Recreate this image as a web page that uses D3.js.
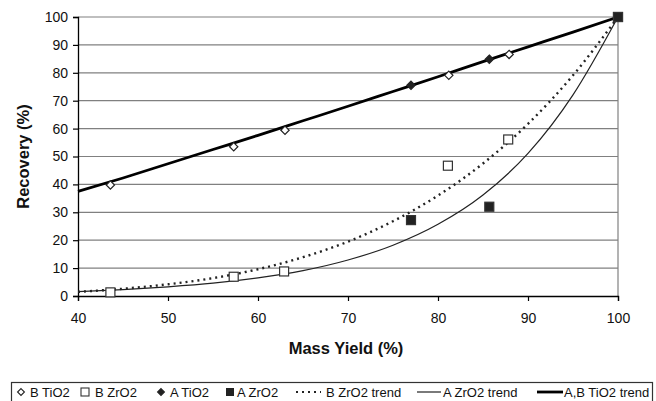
<!DOCTYPE html>
<html>
<head>
<meta charset="utf-8">
<script src="https://cdn.jsdelivr.net/npm/d3@7"></script>
<style>
  body { margin: 0; background: #fff; }
  svg { display: block; font-family: "Liberation Sans", Arial, sans-serif; }
</style>
</head>
<body>
<div id="chart"></div>
<script>
// data
const bTiO2X = [43.6, 57.3, 63.0, 81.2, 87.9, 100];
const bTiO2Y = [39.8, 53.5, 59.4, 79.1, 86.6, 100];
const bZrO2X = [43.6, 57.3, 62.9, 81.1, 87.8, 100];
const bZrO2Y = [1.3, 6.9, 8.8, 46.7, 56.1, 100];
const aTiO2X = [77.0, 85.7];
const aTiO2Y = [75.5, 84.9];
const aZrO2X = [77.0, 85.7, 100];
const aZrO2Y = [27.2, 32.0, 100];

// trend lines, read every 5 units
const trendX = [40, 45, 50, 55, 60, 65, 70, 75, 80, 85, 90, 95, 100];
const bZrO2Trend = [1.5, 2.6, 4.2, 6.4, 9.6, 13.9, 19.5, 26.8, 36.0, 47.5, 61.7, 79.1, 100];
const aZrO2Trend = [1.6, 2.3, 3.3, 4.6, 6.5, 9.1, 12.9, 18.2, 25.7, 36.2, 51.1, 72.1, 100];
const tiO2Trend = [37.5, 42.3, 47.4, 52.5, 57.6, 62.8, 68.0, 73.3, 78.6, 84.0, 89.3, 94.6, 100];

const xTicks = [40, 50, 60, 70, 80, 90, 100];
const yTicks = [0, 10, 20, 30, 40, 50, 60, 70, 80, 90, 100];

const W = 656, H = 401;
const margin = {top: 17, right: 38, bottom: 105, left: 78};
const width = W - margin.left - margin.right,
      height = H - margin.top - margin.bottom;

const svg = d3.select("#chart").append("svg")
  .attr("width", W).attr("height", H);

const g = svg.append("g")
  .attr("transform", "translate(" + margin.left + "," + margin.top + ")");

const x = d3.scaleLinear().domain([40, 100]).range([0, width]);
const y = d3.scaleLinear().domain([0, 100]).range([height, 0]);

// gridlines
g.append("g").selectAll("line")
  .data(yTicks.filter(d => d > 0))
  .enter().append("line")
  .attr("x1", 0).attr("x2", width)
  .attr("y1", d => y(d)).attr("y2", d => y(d))
  .attr("stroke", "#808080").attr("stroke-width", 1.2);

// right border
g.append("line")
  .attr("x1", width).attr("x2", width).attr("y1", 0).attr("y2", height)
  .attr("stroke", "#808080").attr("stroke-width", 1.2);

// axes
const xAxis = g.append("g")
  .attr("transform", "translate(0," + height + ")")
  .call(d3.axisBottom(x).tickValues(xTicks).tickSize(5).tickPadding(12));
const yAxis = g.append("g")
  .call(d3.axisLeft(y).tickValues(yTicks).tickSize(5).tickPadding(5));

[xAxis, yAxis].forEach(a => {
  a.select(".domain").attr("stroke", "#000").attr("stroke-width", 1.3);
  a.selectAll(".tick line").attr("stroke", "#000").attr("stroke-width", 1.2);
  a.selectAll("text").attr("font-size", 14).attr("fill", "#111")
    .style("font-family", "'Liberation Sans', Arial, sans-serif");
});

// trend lines
const line = d3.line()
  .x((d, i) => x(trendX[i]))
  .y(d => y(d))
  .curve(d3.curveMonotoneX);

g.append("path").datum(aZrO2Trend)
  .attr("d", line).attr("fill", "none")
  .attr("stroke", "#222").attr("stroke-width", 1.2);

g.append("path").datum(bZrO2Trend)
  .attr("d", line).attr("fill", "none")
  .attr("stroke", "#222").attr("stroke-width", 2.4)
  .attr("stroke-dasharray", "2,4");

g.append("path").datum(tiO2Trend)
  .attr("d", line).attr("fill", "none")
  .attr("stroke", "#000").attr("stroke-width", 2.8);

// markers
const diamond = d3.symbol().type(d3.symbolDiamond2).size(44);

function addDiamonds(xs, ys, filled) {
  g.append("g").selectAll("path")
    .data(xs)
    .enter().append("path")
    .attr("d", diamond)
    .attr("transform", (d, i) => "translate(" + x(d) + "," + y(ys[i]) + ")")
    .attr("fill", filled ? "#222" : "#fff")
    .attr("stroke", "#222").attr("stroke-width", 1.2);
}

function addSquares(xs, ys, filled) {
  const s = 9;
  g.append("g").selectAll("rect")
    .data(xs)
    .enter().append("rect")
    .attr("x", d => x(d) - s / 2)
    .attr("y", (d, i) => y(ys[i]) - s / 2)
    .attr("width", s).attr("height", s)
    .attr("fill", filled ? "#222" : "#fff")
    .attr("stroke", "#333").attr("stroke-width", 1.2);
}

addSquares(bZrO2X, bZrO2Y, false);
addDiamonds(bTiO2X, bTiO2Y, false);
addDiamonds(aTiO2X, aTiO2Y, true);
addSquares(aZrO2X, aZrO2Y, true);

// axis titles
svg.append("text")
  .attr("x", margin.left + width / 2 - 2).attr("y", 354)
  .attr("text-anchor", "middle")
  .attr("font-size", 16.5).attr("font-weight", "bold").attr("fill", "#111")
  .text("Mass Yield (%)");

svg.append("text")
  .attr("transform", "translate(29," + (margin.top + height / 2) + ") rotate(-90)")
  .attr("text-anchor", "middle")
  .attr("font-size", 16.5).attr("font-weight", "bold").attr("fill", "#111")
  .text("Recovery (%)");

// legend
const legend = svg.append("g");
legend.append("rect")
  .attr("x", 11.5).attr("y", 382.5).attr("width", 641).attr("height", 30)
  .attr("fill", "#fff").attr("stroke", "#333").attr("stroke-width", 1.2);

const legendNames = ["B TiO2", "B ZrO2", "A TiO2", "A ZrO2", "B ZrO2 trend", "A ZrO2 trend", "A,B TiO2 trend"];
const legendTextX = [30, 95, 170, 237, 326, 443, 564];
const ly = 392;

legend.selectAll("text")
  .data(legendNames)
  .enter().append("text")
  .attr("x", (d, i) => legendTextX[i]).attr("y", ly + 5)
  .attr("font-size", 13).attr("fill", "#111")
  .text(d => d);

legend.append("path").attr("d", d3.symbol().type(d3.symbolDiamond2).size(30))
  .attr("transform", "translate(21," + ly + ")")
  .attr("fill", "#fff").attr("stroke", "#222").attr("stroke-width", 1.1);
legend.append("rect").attr("x", 81).attr("y", ly - 4).attr("width", 8).attr("height", 8)
  .attr("fill", "#fff").attr("stroke", "#333").attr("stroke-width", 1.1);
legend.append("path").attr("d", d3.symbol().type(d3.symbolDiamond2).size(30))
  .attr("transform", "translate(161," + ly + ")")
  .attr("fill", "#222").attr("stroke", "#222").attr("stroke-width", 1.1);
legend.append("rect").attr("x", 226).attr("y", ly - 4).attr("width", 8).attr("height", 8)
  .attr("fill", "#222");
legend.append("line").attr("x1", 296).attr("x2", 321).attr("y1", ly).attr("y2", ly)
  .attr("stroke", "#222").attr("stroke-width", 1.8).attr("stroke-dasharray", "2,4");
legend.append("line").attr("x1", 417).attr("x2", 441).attr("y1", ly).attr("y2", ly)
  .attr("stroke", "#222").attr("stroke-width", 1.2);
legend.append("line").attr("x1", 537).attr("x2", 563).attr("y1", ly).attr("y2", ly)
  .attr("stroke", "#000").attr("stroke-width", 2.8);
</script>
</body>
</html>
